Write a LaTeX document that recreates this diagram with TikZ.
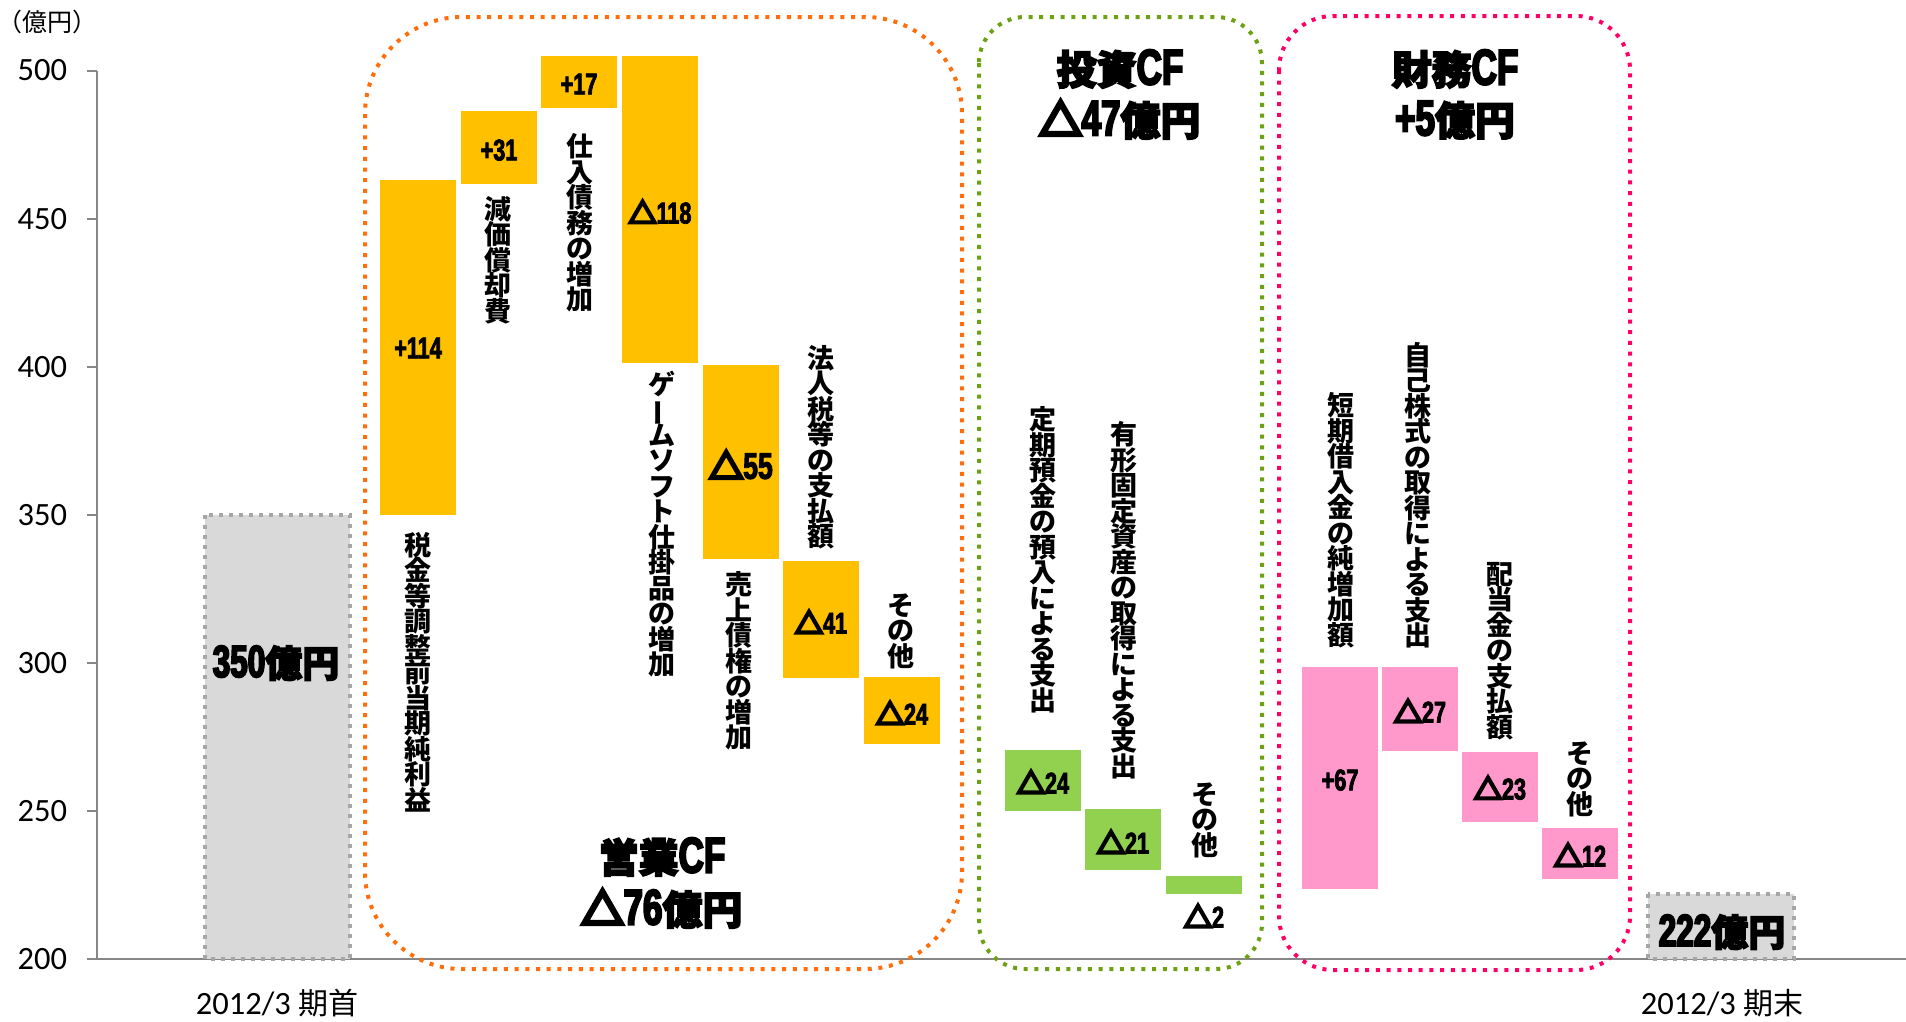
\documentclass[tikz,border=0pt]{standalone}
\usepackage{fontspec}
\usepackage{graphicx}
\setmainfont{Carlito}
\newfontfamily\jp{Noto Sans CJK JP}
\newfontfamily\jph{Noto Sans CJK JP}[FakeBold=4]
\newfontfamily\trif{Noto Sans CJK JP}[FakeBold=10]
\newfontfamily\cndf{Liberation Sans}[FakeStretch=0.72, FakeBold=2.5]
\newfontfamily\cndh{Liberation Sans}[FakeStretch=0.70, FakeBold=4]
\newcommand\fs[1]{\fontsize{#1}{#1}\selectfont}
\newcommand\jpb{\jp\bfseries}
\newcommand\cnd{\cndf\bfseries}
\newcommand\tri[1]{{\trif\bfseries\fs{#1}△}}
\newcommand\num[2]{{\cnd\fs{#1}#2}}
\newcommand\vbar{\rotatebox[origin=c]{90}{ー}}
\makeatletter
\newcommand\vt[1]{\vbox{\baselineskip=25.5pt\lineskiplimit=-100pt\lineskip=0pt\@tfor\vt@c:=#1\do{\hbox to 30pt{\hss\vt@c\hss}}}}
\makeatother
\definecolor{barOrange}{RGB}{255,192,0}
\definecolor{barGreen}{RGB}{146,208,80}
\definecolor{barPink}{RGB}{255,153,204}
\definecolor{barGrey}{RGB}{217,217,217}
\definecolor{bordGrey}{RGB}{166,166,166}
\definecolor{axisGrey}{RGB}{134,134,134}
\definecolor{frOrange}{RGB}{255,110,10}
\definecolor{frGreen}{RGB}{110,160,20}
\definecolor{frPink}{RGB}{255,0,102}
\begin{document}
\begin{tikzpicture}[x=1pt,y=-1pt,
  every node/.style={inner sep=0pt,outer sep=0pt},
  axisline/.style={draw=axisGrey,line width=2pt},
  dotframe/.style={line width=4pt,dash pattern=on 4pt off 6.7pt},
  obar/.style={fill=barOrange},
  gbar/.style={fill=barGreen},
  pbar/.style={fill=barPink},
  endbar/.style={fill=barGrey,draw=bordGrey,line width=4pt,dash pattern=on 4pt off 6pt},
  vlab/.style={font=\jpb\fs{27}},
  tick/.style={font=\fs{32.5}}]
\useasboundingbox (0,0) rectangle (1906,1021);
\fill[white] (0,0) rectangle (1906,1021);

% axes
\coordinate (axTop) at (97,70.5);
\coordinate (axOrig) at (97,959);
\coordinate (axLeft) at (87,959);
\coordinate (axRight) at (1906,959);
\draw[axisline] (axTop) -- (axOrig);
\draw[axisline] (axLeft) -- (axRight);
\foreach \v/\yy in {500/70.5,450/218.6,400/366.7,350/514.8,300/662.9,250/811}{
  \draw[axisline] (87,\yy) -- (97,\yy);
}
\foreach \v/\yy in {500/70.5,450/218.6,400/366.7,350/514.8,300/662.9,250/811,200/959}{
  \node[tick,anchor=east] (tk\v) at (67,\yy) {\v};
}
\node (unit) at (48,22) {\jp\fs{25}（億円）};

% frames
\draw[dotframe,draw=frOrange,rounded corners=97pt] (365,17) rectangle (962,969);
\draw[dotframe,draw=frGreen,rounded corners=46pt] (979,17) rectangle (1262,969);
\draw[dotframe,draw=frPink,rounded corners=54pt] (1279,16) rectangle (1630,970);

% start / end bars
\draw[endbar] (205,515) rectangle (350,959);
\draw[endbar] (1648,894) rectangle (1794,959);
\node (start) at (276,663) {{\cndh\bfseries\fs{45}350}{\jph\bfseries\fs{37}億円}};
\node (finish) at (1722,932) {{\cndh\bfseries\fs{45}222}{\jph\bfseries\fs{37}億円}};
\node (xs) at (277,1003) {\fs{32.5}2012/3 {\jp\fs{30}期首}};
\node (xe) at (1722,1003) {\fs{32.5}2012/3 {\jp\fs{30}期末}};

% operating CF bars
\fill[obar] (380,180) rectangle (456,515);
\fill[obar] (461,111) rectangle (537,184);
\fill[obar] (541,56) rectangle (617,108);
\fill[obar] (622,56) rectangle (698,363);
\fill[obar] (703,365) rectangle (779,559);
\fill[obar] (783,561) rectangle (859,678);
\fill[obar] (864,677) rectangle (940,744);
\node (o1) at (418,348) {\num{30}{+114}};
\node (o2) at (499,150) {\num{30}{+31}};
\node (o3) at (579,84) {\num{30}{+17}};
\node (o4) at (660,212) {\tri{28}\num{30}{118}};
\node (o5) at (741,465) {\tri{34}\num{37}{55}};
\node (o6) at (821,622) {\tri{28}\num{30}{41}};
\node (o7) at (902,713) {\tri{28}\num{30}{24}};
\node[vlab] (ol1) at (418,672) {\vt{税金等調整前当期純利益}};
\node[vlab] (ol2) at (498,260) {\vt{減価償却費}};
\node[vlab] (ol3) at (580,223) {\vt{仕入債務の増加}};
\node[vlab] (ol4) at (662,524) {\vt{ゲ{\vbar}ムソフト仕掛品の増加}};
\node[vlab] (ol5) at (739,661) {\vt{売上債権の増加}};
\node[vlab] (ol6) at (821,447) {\vt{法人税等の支払額}};
\node[vlab] (ol7) at (901,631) {\vt{その他}};
\node (ot1) at (662,857) {{\jph\bfseries\fs{40}営業}{\cndh\bfseries\fs{50}CF}};
\node (ot2) at (662,909) {{\trif\bfseries\fs{42}△}{\cndh\bfseries\fs{50}76}{\jph\bfseries\fs{40}億円}};

% investing CF bars
\fill[gbar] (1005,750) rectangle (1081,811);
\fill[gbar] (1085,809) rectangle (1161,870);
\fill[gbar] (1166,876) rectangle (1242,894);
\node (g1) at (1043,782) {\tri{28}\num{30}{24}};
\node (g2) at (1123,842) {\tri{28}\num{30}{21}};
\node (g3) at (1204,916) {\tri{28}\num{30}{2}};
\node[vlab] (gl1) at (1043,560) {\vt{定期預金の預入による支出}};
\node[vlab] (gl2) at (1124,600) {\vt{有形固定資産の取得による支出}};
\node[vlab] (gl3) at (1205,820) {\vt{その他}};
\node (gt1) at (1120,69) {{\jph\bfseries\fs{40}投資}{\cndh\bfseries\fs{50}CF}};
\node (gt2) at (1120,120) {{\trif\bfseries\fs{42}△}{\cndh\bfseries\fs{50}47}{\jph\bfseries\fs{40}億円}};

% financing CF bars
\fill[pbar] (1302,667) rectangle (1378,889);
\fill[pbar] (1382,667) rectangle (1458,751);
\fill[pbar] (1462,752) rectangle (1538,822);
\fill[pbar] (1542,828) rectangle (1618,879);
\node (p1) at (1340,780) {\num{30}{+67}};
\node (p2) at (1420,711) {\tri{28}\num{30}{27}};
\node (p3) at (1500,788) {\tri{28}\num{30}{23}};
\node (p4) at (1580,855) {\tri{28}\num{30}{12}};
\node[vlab] (pl1) at (1341,520) {\vt{短期借入金の純増加額}};
\node[vlab] (pl2) at (1418,495) {\vt{自己株式の取得による支出}};
\node[vlab] (pl3) at (1500,651) {\vt{配当金の支払額}};
\node[vlab] (pl4) at (1580,779) {\vt{その他}};
\node (pt1) at (1455,69) {{\jph\bfseries\fs{40}財務}{\cndh\bfseries\fs{50}CF}};
\node (pt2) at (1455,120) {{\cndh\bfseries\fs{50}+5}{\jph\bfseries\fs{40}億円}};
\end{tikzpicture}
\end{document}
